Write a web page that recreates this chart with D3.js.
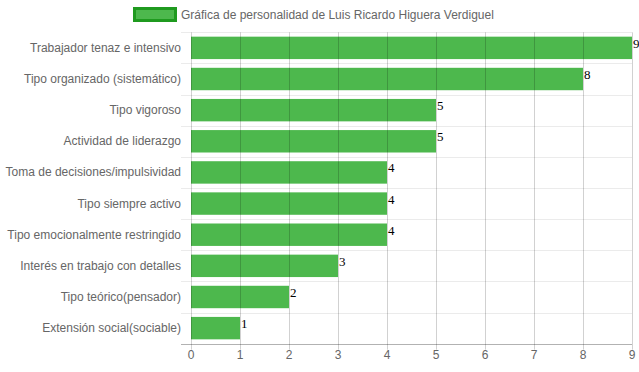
<!DOCTYPE html>
<html><head><meta charset="utf-8">
<script src="https://cdn.jsdelivr.net/npm/d3@7"></script>
<style>body{margin:0;background:#fff}svg{display:block}</style>
</head><body><svg id="c" width="639" height="372"></svg>
<script>
const categories = ["Trabajador tenaz e intensivo","Tipo organizado (sistemático)","Tipo vigoroso","Actividad de liderazgo","Toma de decisiones/impulsividad","Tipo siempre activo","Tipo emocionalmente restringido","Interés en trabajo con detalles","Tipo teórico(pensador)","Extensión social(sociable)"];
const values = [9,8,5,5,4,4,4,3,2,1];
const xTicks = [0,1,2,3,4,5,6,7,8,9];
const legendLabel = "Gráfica de personalidad de Luis Ricardo Higuera Verdiguel";

const svg = d3.select("#c");
const L = 191, R = 632, T = 32.3, B = 343.7;
const x = d3.scaleLinear().domain([0,9]).range([L,R]);
const y = d3.scaleBand().domain(categories).range([T,B]).paddingInner(0.28).paddingOuter(0.14);
const band = (B-T)/categories.length;
const font = "Liberation Sans, Arial, Helvetica, sans-serif";

// horizontal grid lines (category boundaries)
const hg = svg.append("g");
for (let i=0;i<categories.length;i++){
  const yy = Math.round(T + i*band)+0.5;
  hg.append("line").attr("x1",L-10).attr("x2",R).attr("y1",yy).attr("y2",yy)
    .attr("stroke","rgba(0,0,0,0.08)");
}
// bars
svg.append("g").selectAll("rect").data(values).join("rect")
  .attr("x",x(0)).attr("y",(d,i)=>y(categories[i]))
  .attr("width",d=>x(d)-x(0)).attr("height",y.bandwidth())
  .attr("fill","#4db84d");
// vertical grid lines
const vg = svg.append("g");
xTicks.forEach(t=>{
  const xx = Math.round(x(t))+0.5;
  vg.append("line").attr("x1",xx).attr("x2",xx).attr("y1",T).attr("y2",B+6)
    .attr("stroke","rgba(0,0,0,0.18)");
});
// bottom axis line
svg.append("line").attr("x1",L-10).attr("x2",R).attr("y1",Math.round(B)+0.5).attr("y2",Math.round(B)+0.5)
  .attr("stroke","rgba(0,0,0,0.3)");
// bottom tick labels
svg.append("g").selectAll("text").data(xTicks).join("text")
  .attr("x",d=>x(d)).attr("y",359).attr("text-anchor","middle")
  .attr("font-family",font).attr("font-size",12).attr("fill","#666").text(d=>d);
// category labels
svg.append("g").selectAll("text").data(categories).join("text")
  .attr("x",181).attr("y",d=>y(d)+y.bandwidth()/2+4).attr("text-anchor","end")
  .attr("font-family",font).attr("font-size",12).attr("fill","#666").text(d=>d);
// value labels
svg.append("g").selectAll("text").data(values).join("text")
  .attr("x",d=>x(d)+1).attr("y",(d,i)=>y(categories[i])+y.bandwidth()/2)
  .attr("font-family","Liberation Serif, Times New Roman, serif").attr("font-size",13).attr("fill","#000").text(d=>d);
// legend
svg.append("rect").attr("x",134.5).attr("y",8.5).attr("width",41).attr("height",12)
  .attr("fill","#4db84d").attr("stroke","#1f9a1f").attr("stroke-width",3);
svg.append("text").attr("x",181).attr("y",19).attr("font-family",font).attr("font-size",12)
  .attr("fill","#666").text(legendLabel);
</script></body></html>
